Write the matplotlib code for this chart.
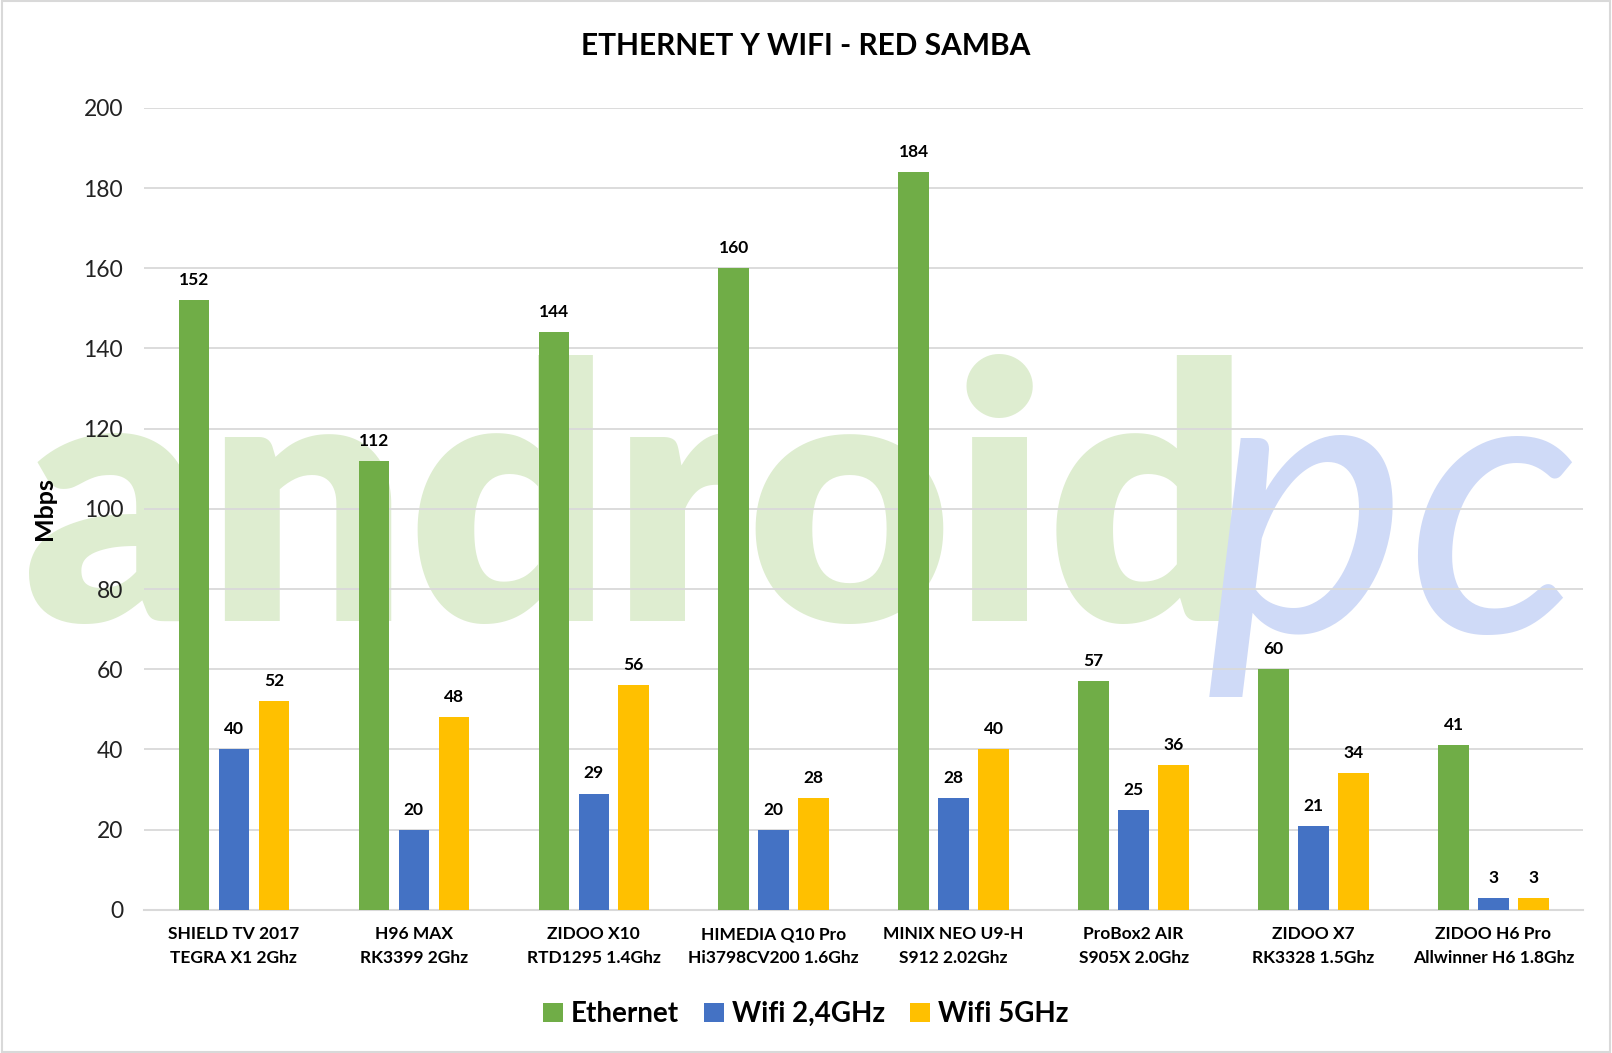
import matplotlib.pyplot as plt
import numpy as np

plt.rcParams['font.family'] = ['Lato', 'DejaVu Sans']

categories = ["SHIELD TV 2017\nTEGRA X1 2Ghz", "H96 MAX\nRK3399 2Ghz", "ZIDOO X10\nRTD1295 1.4Ghz",
              "HIMEDIA Q10 Pro\nHi3798CV200 1.6Ghz", "MINIX NEO U9-H\nS912 2.02Ghz",
              "ProBox2 AIR\nS905X 2.0Ghz", "ZIDOO X7\nRK3328 1.5Ghz", "ZIDOO H6 Pro\nAllwinner H6 1.8Ghz"]
ethernet = [152, 112, 144, 160, 184, 57, 60, 41]
wifi24 = [40, 20, 29, 20, 28, 25, 21, 3]
wifi5 = [52, 48, 56, 28, 40, 36, 34, 3]
series_names = ["Ethernet", "Wifi 2,4GHz", "Wifi 5GHz"]
colors = ["#70AD47", "#4472C4", "#FFC000"]

fig = plt.figure(figsize=(16.12, 10.53), dpi=100)
ax = fig.add_axes([0.0893, 0.136, 0.893, 0.7615])
ax.set_facecolor('none')

# watermark, drawn under the axes
fig.text(0.014, 0.41, "android", fontsize=255, fontweight='heavy', color='#deedd0',
         ha='left', va='baseline', zorder=-1)
fig.text(0.748, 0.40, "pc", fontsize=275, fontstyle='italic', color='#cfdaf7',
         ha='left', va='baseline', zorder=-1)

x = np.arange(len(categories))
w = 0.17
step = 0.222
for i, (vals, name, c) in enumerate(zip([ethernet, wifi24, wifi5], series_names, colors)):
    pos = x + (i - 1) * step
    ax.bar(pos, vals, width=w, color=c, label=name, zorder=3)
    for px, v in zip(pos, vals):
        ax.text(px, v + 3, str(v), ha='center', va='bottom', fontsize=12.5,
                fontweight='bold', zorder=4)

ax.set_xlim(-0.5, len(categories) - 0.5)
ax.set_ylim(0, 200)
ax.set_yticks(range(0, 201, 20))
ax.yaxis.grid(True, color='#d9d9d9', linewidth=1.3, zorder=0)
ax.set_axisbelow(True)
for s in ['top', 'right', 'left']:
    ax.spines[s].set_visible(False)
ax.spines['bottom'].set_color('#d9d9d9')
ax.spines['bottom'].set_linewidth(1.5)
ax.tick_params(axis='both', length=0)
ax.tick_params(axis='y', labelsize=16.5, pad=15, labelcolor='#222222')
ax.set_xticks(x)
ax.set_xticklabels(categories, fontsize=12.5, fontweight='bold', linespacing=1.6)
ax.tick_params(axis='x', pad=12)
ax.set_ylabel('Mbps', fontsize=18, fontweight='bold', labelpad=20)

fig.suptitle('ETHERNET Y WIFI - RED SAMBA', fontsize=21.5, fontweight='bold', y=0.970)

leg = fig.legend(loc='center', bbox_to_anchor=(0.5, 0.037), ncol=3, frameon=False,
                 handlelength=0.7, handleheight=0.7, columnspacing=0.9,
                 handletextpad=0.3, prop={'size': 20, 'weight': 'bold'})

fig.patches.append(plt.Rectangle((0.001, 0.001), 0.998, 0.998, transform=fig.transFigure,
                                 fill=False, edgecolor='#d9d9d9', linewidth=1.5))

fig.savefig('out.png', dpi=100)
